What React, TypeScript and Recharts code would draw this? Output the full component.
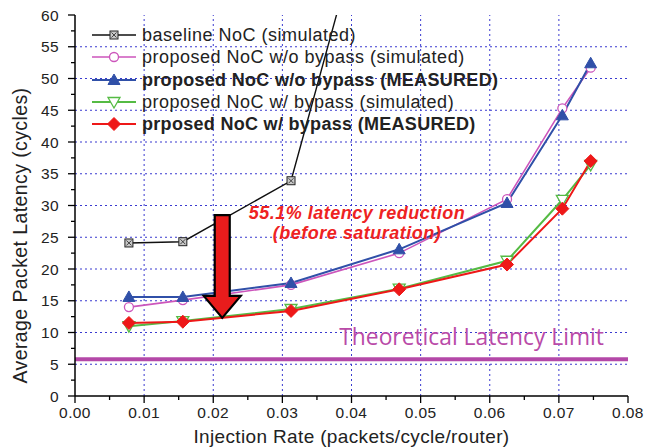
import React from 'react';
import {
  LineChart,
  Line,
  XAxis,
  YAxis,
  Legend,
  ReferenceLine,
  ReferenceDot,
  Label,
} from 'recharts';

// injection rates (packets/cycle/router)
const injectionRate = [0.0078, 0.0156, 0.03125, 0.0469, 0.0625, 0.0705, 0.0746];

// average packet latency (cycles)
const baselineSim = [24.1, 24.3, 33.9, 96];
const noBypassSim = [14.0, 15.1, 17.5, 22.5, 31.0, 45.3, 51.7];
const noBypassMeas = [15.6, 15.6, 17.8, 23.1, 30.4, 44.2, 52.4];
const bypassSim = [11.0, 11.8, 13.7, 16.9, 21.3, 30.9, 36.4];
const bypassMeas = [11.5, 11.7, 13.4, 16.8, 20.7, 29.5, 37.0];

const xTicks = [0, 0.005, 0.01, 0.015, 0.02, 0.025, 0.03, 0.035, 0.04, 0.045, 0.05, 0.055, 0.06, 0.065, 0.07, 0.075, 0.08];
const xGrid = [0.01, 0.02, 0.03, 0.04, 0.05, 0.06, 0.07];
const yGrid = [5, 10, 15, 20, 25, 30, 35, 40, 45, 50, 55];
const yTicks = [0, 2.5, 5, 7.5, 10, 12.5, 15, 17.5, 20, 22.5, 25, 27.5, 30, 32.5, 35, 37.5, 40, 42.5, 45, 47.5, 50, 52.5, 55, 57.5, 60];

const latencyLimit = 5.8;
const arrowX = 0.0213;
const arrowFrom = 28.5;
const arrowTo = 12.3;
const noteX = 0.0408;
const noteY = 27.9;

const data = injectionRate.map((x, i) => ({
  x,
  baseline: baselineSim[i],
  noBypassSim: noBypassSim[i],
  noBypassMeas: noBypassMeas[i],
  bypassSim: bypassSim[i],
  bypassMeas: bypassMeas[i],
}));

const FONT = '"Liberation Sans", Arial, sans-serif';
const GRID = '#3a3ad0';

type MarkerKind = 'boxX' | 'circle' | 'triUp' | 'triDown' | 'diamond';

const series: { key: string; name: string; color: string; marker: MarkerKind; width: number; bold: boolean }[] = [
  { key: 'baseline', name: 'baseline NoC (simulated)', color: '#111111', marker: 'boxX', width: 1.4, bold: false },
  { key: 'noBypassSim', name: 'proposed NoC w/o bypass (simulated)', color: '#cc55bb', marker: 'circle', width: 1.6, bold: false },
  { key: 'noBypassMeas', name: 'proposed NoC w/o bypass (MEASURED)', color: '#3050a8', marker: 'triUp', width: 2, bold: true },
  { key: 'bypassSim', name: 'proposed NoC w/ bypass (simulated)', color: '#55bb44', marker: 'triDown', width: 2, bold: false },
  { key: 'bypassMeas', name: 'prposed NoC w/ bypass (MEASURED)', color: '#ee1818', marker: 'diamond', width: 2, bold: true },
];

const Marker = ({ kind, cx, cy, color }: { kind: MarkerKind; cx: number; cy: number; color: string }) => {
  switch (kind) {
    case 'boxX':
      return (
        <g>
          <rect x={cx - 4} y={cy - 4} width={8} height={8} fill="#c8c8c8" stroke="#222" strokeWidth={1} />
          <line x1={cx - 2.5} y1={cy - 2.5} x2={cx + 2.5} y2={cy + 2.5} stroke="#222" strokeWidth={0.8} />
          <line x1={cx - 2.5} y1={cy + 2.5} x2={cx + 2.5} y2={cy - 2.5} stroke="#222" strokeWidth={0.8} />
        </g>
      );
    case 'circle':
      return <circle cx={cx} cy={cy} r={4.5} fill="#fff" stroke={color} strokeWidth={1.3} />;
    case 'triUp':
      return <path d={`M${cx},${cy - 6} L${cx + 6},${cy + 4.5} L${cx - 6},${cy + 4.5}Z`} fill={color} stroke={color} />;
    case 'triDown':
      return <path d={`M${cx - 6},${cy - 4.5} L${cx + 6},${cy - 4.5} L${cx},${cy + 6}Z`} fill="#fff" stroke={color} strokeWidth={1.3} />;
    case 'diamond':
      return <path d={`M${cx},${cy - 6.5} L${cx + 6.5},${cy} L${cx},${cy + 6.5} L${cx - 6.5},${cy}Z`} fill={color} stroke={color} />;
  }
};

const dotFor = (kind: MarkerKind, color: string) => (props: any) => {
  const { cx, cy, index } = props;
  if (cx == null || cy == null || Number.isNaN(cy)) return <g key={`e-${index}`} />;
  return (
    <g key={`m-${index}`}>
      <Marker kind={kind} cx={cx} cy={cy} color={color} />
    </g>
  );
};

const isMajor = (v: number, step: number) => Math.abs(v / step - Math.round(v / step)) < 1e-6;

const BottomTick = ({ x, y, payload }: any) => {
  const major = isMajor(payload.value, 0.01);
  return (
    <g>
      <line x1={x} x2={x} y1={y} y2={y + (major ? 7 : 4)} stroke="#000" strokeWidth={1.3} />
      {major && (
        <text x={x} y={y + 22} textAnchor="middle" fontSize={15.5} fill="#222" fontFamily={FONT} letterSpacing={0.4}>
          {payload.value.toFixed(2)}
        </text>
      )}
    </g>
  );
};

const TopTick = ({ x, y, payload }: any) => {
  const major = isMajor(payload.value, 0.01);
  return <line x1={x} x2={x} y1={y} y2={y + (major ? 6 : 4)} stroke="#000" strokeWidth={1.3} />;
};

const LeftTick = ({ x, y, payload }: any) => {
  const major = isMajor(payload.value, 5);
  return (
    <g>
      <line x1={x} x2={x - (major ? 7 : 4)} y1={y} y2={y} stroke="#000" strokeWidth={1.3} />
      {major && (
        <text x={x - 16} y={y + 5.5} textAnchor="end" fontSize={15.5} fill="#222" fontFamily={FONT} letterSpacing={0.4}>
          {payload.value}
        </text>
      )}
    </g>
  );
};

const RightTick = ({ x, y }: any) => <line x1={x} x2={x - 5} y1={y} y2={y} stroke="#000" strokeWidth={1.3} />;

const ArrowShape = (props: any) => {
  const { x1, y1, y2 } = props;
  const cx = x1;
  const top = Math.min(y1, y2);
  const tip = Math.max(y1, y2);
  const headH = 22;
  const shaft = 7.5;
  const head = 18.5;
  const d = `M${cx - shaft},${top} L${cx + shaft},${top} L${cx + shaft},${tip - headH} L${cx + head},${tip - headH} L${cx},${tip} L${cx - head},${tip - headH} L${cx - shaft},${tip - headH}Z`;
  return <path d={d} fill="#e81c1c" stroke="#000" strokeWidth={2.2} strokeLinejoin="miter" />;
};

const NoteShape = (props: any) => {
  const { cx, cy } = props;
  return (
    <text x={cx} y={cy} textAnchor="middle" fontSize={18} fontWeight="bold" fontStyle="italic" fill="#ee2222" fontFamily={FONT} letterSpacing={0.5}>
      <tspan x={cx} dy={0}>55.1% latency reduction</tspan>
      <tspan x={cx} dy={20}>(before saturation)</tspan>
    </text>
  );
};

const LimitLabel = (props: any) => {
  const vb = props.viewBox || {};
  return (
    <text x={vb.x + vb.width - 24} y={vb.y - 14} textAnchor="end" fontSize={22.8} fill="#b94aa8" fontFamily='"Open Sans", "Noto Sans", sans-serif'>
      Theoretical Latency Limit
    </text>
  );
};

const XTitle = (props: any) => {
  const vb = props.viewBox || {};
  return (
    <text x={vb.x + vb.width / 2} y={vb.y + 47} textAnchor="middle" fontSize={19} fill="#222" fontFamily={FONT} letterSpacing={0.35}>
      Injection Rate (packets/cycle/router)
    </text>
  );
};

const YTitle = (props: any) => {
  const vb = props.viewBox || {};
  const cx = 20;
  const cy = vb.y + vb.height / 2 + 30;
  return (
    <text transform={`translate(${cx},${cy}) rotate(-90)`} x={0} y={7} textAnchor="middle" fontSize={19.5} fill="#222" fontFamily={FONT} letterSpacing={0.4}>
      Average Packet Latency (cycles)
    </text>
  );
};

const LegendContent = () => (
  <div style={{ fontFamily: FONT }}>
    {series.map((s) => (
      <div key={s.key} style={{ display: 'flex', alignItems: 'center', height: 22.3 }}>
        <svg width={44} height={22} style={{ display: 'block' }}>
          <line x1={0} x2={44} y1={11} y2={11} stroke={s.color} strokeWidth={s.width} />
          <Marker kind={s.marker} cx={22} cy={11} color={s.color} />
        </svg>
        <span
          style={{
            marginLeft: 6,
            fontSize: 18,
            fontWeight: s.bold ? 'bold' : 'normal',
            color: '#222',
            letterSpacing: s.bold ? 0.3 : 0.5,
            whiteSpace: 'nowrap',
            lineHeight: '22px',
          }}
        >
          {s.name}
        </span>
      </div>
    ))}
  </div>
);

export default function App() {
  return (
    <div style={{ position: 'absolute', left: 0, top: 0, width: 657, height: 448, background: '#fff' }}>
      <LineChart width={657} height={448} data={data} margin={{ top: 15, right: 29, bottom: 0, left: 0 }}>
        <XAxis
          dataKey="x"
          type="number"
          domain={[0, 0.08]}
          ticks={xTicks}
          interval={0}
          height={52}
          tickSize={0}
          tickMargin={0}
          tickLine={false}
          tick={<BottomTick />}
          axisLine={{ stroke: '#000', strokeWidth: 1.5 }}
        >
          <Label content={<XTitle />} />
        </XAxis>
        <XAxis
          xAxisId="top"
          dataKey="x"
          type="number"
          orientation="top"
          domain={[0, 0.08]}
          ticks={xTicks}
          interval={0}
          height={0}
          tickSize={0}
          tickMargin={0}
          tickLine={false}
          tick={<TopTick />}
          axisLine={{ stroke: '#000', strokeWidth: 1.5 }}
        />
        <YAxis
          type="number"
          domain={[0, 60]}
          allowDataOverflow
          ticks={yTicks}
          interval={0}
          width={75}
          tickSize={0}
          tickMargin={0}
          tickLine={false}
          tick={<LeftTick />}
          axisLine={{ stroke: '#000', strokeWidth: 1.5 }}
        >
          <Label content={<YTitle />} />
        </YAxis>
        <YAxis
          yAxisId="right"
          orientation="right"
          type="number"
          domain={[0, 60]}
          ticks={yTicks}
          interval={0}
          width={0}
          tickSize={0}
          tickMargin={0}
          tickLine={false}
          tick={<RightTick />}
          axisLine={{ stroke: '#000', strokeWidth: 1.5 }}
        />
        {xGrid.map((v) => (
          <ReferenceLine key={`gx-${v}`} x={v} stroke={GRID} strokeDasharray="2 3" strokeWidth={1} />
        ))}
        {yGrid.map((v) => (
          <ReferenceLine key={`gy-${v}`} y={v} stroke={GRID} strokeDasharray="2 3" strokeWidth={1} />
        ))}
        <ReferenceLine y={latencyLimit} stroke="#b448a8" strokeWidth={4} label={<LimitLabel />} />
        {series.map((s) => (
          <Line
            key={s.key}
            dataKey={s.key}
            name={s.name}
            stroke={s.color}
            strokeWidth={s.width}
            dot={dotFor(s.marker, s.color)}
            activeDot={false}
            isAnimationActive={false}
            connectNulls={false}
            type="linear"
          />
        ))}
        <ReferenceLine
          segment={[
            { x: arrowX, y: arrowFrom },
            { x: arrowX, y: arrowTo },
          ]}
          shape={<ArrowShape />}
          ifOverflow="visible"
        />
        <ReferenceDot x={noteX} y={noteY} r={0} shape={<NoteShape />} ifOverflow="visible" />
        <Legend
          layout="vertical"
          align="center"
          verticalAlign="middle"
          wrapperStyle={{ position: 'absolute', left: 92, top: 24, width: 460, height: 115 }}
          content={<LegendContent />}
        />
      </LineChart>
    </div>
  );
}
